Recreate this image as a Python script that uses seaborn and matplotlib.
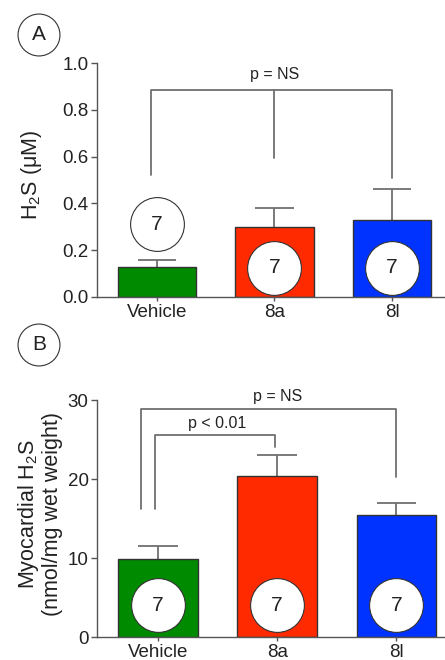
import numpy as np
import pandas as pd
import matplotlib
matplotlib.use('Agg')
import matplotlib.pyplot as plt
import seaborn as sns

# data
groups = ['Vehicle', '8a', '8l']
h2s_plasma = [0.13, 0.30, 0.33]
h2s_plasma_sem = [0.03, 0.08, 0.13]
h2s_heart = [9.9, 20.4, 15.5]
h2s_heart_sem = [1.7, 2.7, 1.5]
n_per_group = [7, 7, 7]
bar_colors = ['#008a00', '#ff2a00', '#0033ff']

sns.set_theme(style='ticks')
plt.rcParams['font.family'] = ['Liberation Sans', 'DejaVu Sans']
plt.rcParams['mathtext.fontset'] = 'custom'
plt.rcParams['mathtext.rm'] = 'Liberation Sans'
plt.rcParams['mathtext.it'] = 'Liberation Sans:italic'

txt = '#222222'
gray = '#707070'

fig = plt.figure(figsize=(4.45, 6.6), dpi=100)
axA = fig.add_axes([0.218, 0.55, 0.795, 0.3545])
axB = fig.add_axes([0.218, 0.0344, 0.807, 0.3595])


def draw_panel(ax, vals, sems, ymax, yticks, circle_y):
    df = pd.DataFrame({'group': groups, 'val': vals})
    sns.barplot(data=df, x='group', y='val', hue='group', palette=bar_colors,
                saturation=1, errorbar=None, width=0.67, edgecolor='#333333',
                linewidth=1, legend=False, ax=ax, zorder=2)
    x = np.arange(len(groups))
    tops = np.array(vals) + np.array(sems)
    ax.vlines(x, vals, tops, color=gray, lw=1.3, zorder=1)
    ax.hlines(tops, x - 0.165, x + 0.165, color=gray, lw=1.3, zorder=1)
    ax.scatter(x, circle_y, s=1500, facecolor='white', edgecolor='#333333',
               linewidth=0.8, zorder=3)
    for xi, yi, n in zip(x, circle_y, n_per_group):
        ax.text(xi, yi, str(n), ha='center', va='center', fontsize=15,
                color=txt, zorder=4)
    ax.set_ylim(0, ymax)
    ax.set_xlim(-0.51, 2.5)
    ax.set_yticks(yticks)
    ax.set_xlabel('')
    sns.despine(ax=ax)
    for s in ['left', 'bottom']:
        ax.spines[s].set_color('#555555')
        ax.spines[s].set_linewidth(1)
    ax.tick_params(axis='y', length=4, width=1, color='#555555', labelsize=13.5,
                   labelcolor=txt, pad=2)
    ax.tick_params(axis='x', length=3, width=1, color='#555555', labelsize=13.5,
                   labelcolor=txt, pad=2)


def bracket(ax, x0, x1, y, y0, y1, label, ty, tx=None, mid=None):
    ax.plot([x0, x0, x1, x1], [y0, y, y, y1], color=gray, lw=1.3,
            clip_on=False, zorder=1)
    if mid is not None:
        ax.plot([mid[0], mid[0]], [y, mid[1]], color=gray, lw=1.3, zorder=1)
    if tx is None:
        tx = (x0 + x1) / 2
    ax.text(tx, ty, label, ha='center', va='center', fontsize=11.5, color=txt)


# panel A
draw_panel(axA, h2s_plasma, h2s_plasma_sem, 1.0,
           [0.0, 0.2, 0.4, 0.6, 0.8, 1.0], [0.31, 0.124, 0.124])
axA.set_yticklabels(['0.0', '0.2', '0.4', '0.6', '0.8', '1.0'])
axA.set_ylabel('H$_2$S (\u03bcM)', fontsize=15.5, color=txt)
axA.yaxis.set_label_coords(-0.15, 0.52)
bracket(axA, -0.05, 2.0, 0.886, 0.52, 0.508, 'p = NS', 0.952, tx=1.0,
        mid=(1.0, 0.594))

# panel B
draw_panel(axB, h2s_heart, h2s_heart_sem, 30, [0, 10, 20, 30], [4.05, 4.05, 4.05])
axB.set_ylabel('Myocardial H$_2$S\n(nmol/mg wet weight)', fontsize=15.5,
               color=txt, linespacing=1.05)
axB.yaxis.set_label_coords(-0.095, 0.52)
bracket(axB, -0.14, 2.0, 28.9, 16.2, 20.3, 'p = NS', 30.4, tx=1.0)
bracket(axB, -0.02, 0.98, 25.6, 16.2, 24.1, 'p < 0.01', 27.0, tx=0.5)

# panel letters
for letter, ypos in [('A', 1 - 35 / 660), ('B', 1 - 345 / 660)]:
    fig.text(39 / 445, ypos, letter, ha='center', va='center', fontsize=15,
             color=txt,
             bbox=dict(boxstyle='circle,pad=0.55', facecolor='white',
                       edgecolor='#333333', linewidth=0.8))

fig.savefig('out.png', dpi=100)
